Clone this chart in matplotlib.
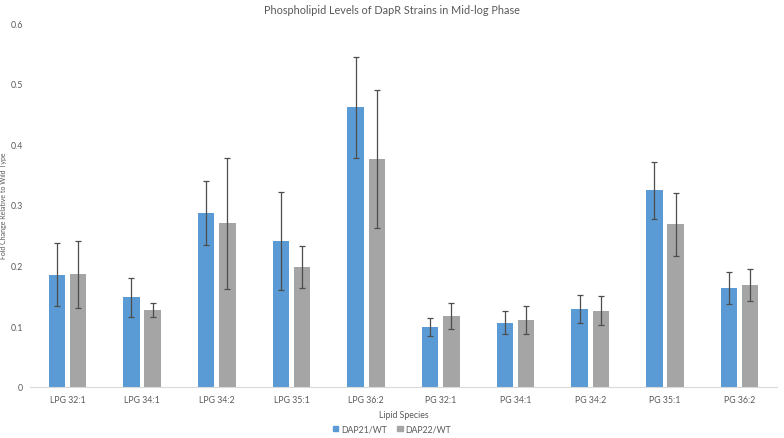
import matplotlib
matplotlib.use("Agg")
import matplotlib.pyplot as plt
import numpy as np
from matplotlib.patches import Patch

categories = ["LPG 32:1", "LPG 34:1", "LPG 34:2", "LPG 35:1", "LPG 36:2",
              "PG 32:1", "PG 34:1", "PG 34:2", "PG 35:1", "PG 36:2"]
dap21 = [0.185, 0.148, 0.287, 0.241, 0.461, 0.099, 0.106, 0.128, 0.324, 0.163]
dap21_err = [0.052, 0.032, 0.053, 0.081, 0.083, 0.015, 0.019, 0.023, 0.047, 0.026]
dap22 = [0.186, 0.127, 0.270, 0.198, 0.376, 0.117, 0.110, 0.126, 0.268, 0.168]
dap22_err = [0.055, 0.012, 0.108, 0.035, 0.114, 0.022, 0.023, 0.024, 0.052, 0.026]
yticks = [0, 0.1, 0.2, 0.3, 0.4, 0.5, 0.6]

plt.rcParams['font.family'] = ['Lato', 'DejaVu Sans']
txt = '#595959'

fig = plt.figure(figsize=(7.84, 4.39), dpi=100)
ax = fig.add_axes([30/784, 1 - 388/439, 747/784, (388 - 24)/439])

x = np.arange(len(categories))
w = 0.22
off = 0.142
ekw = dict(ecolor='#4d4d4d', elinewidth=0.9, capsize=2.2, capthick=0.9)
ax.bar(x - off, dap21, w, color='#5B9BD5', yerr=dap21_err, error_kw=ekw, label='DAP21/WT')
ax.bar(x + off, dap22, w, color='#A5A5A5', yerr=dap22_err, error_kw=ekw, label='DAP22/WT')

ax.set_xlim(-0.5, len(categories) - 0.5)
ax.set_ylim(0, 0.6)
ax.set_yticks(yticks)
ax.set_yticklabels([f"{t:g}" for t in yticks])
ax.set_xticks(x)
ax.set_xticklabels(categories)
ax.tick_params(axis='both', length=0, labelsize=6.3, colors=txt)
ax.tick_params(axis='x', pad=6)
ax.tick_params(axis='y', pad=5)
for s in ['top', 'right', 'left']:
    ax.spines[s].set_visible(False)
ax.spines['bottom'].set_color('#D9D9D9')
ax.spines['bottom'].set_linewidth(0.8)

ax.set_ylabel('Fold Change Relative to Wild Type', fontsize=5, color=txt)
ax.yaxis.set_label_coords(-0.0305, 0.5)
ax.set_xlabel('Lipid Species', fontsize=6.3, color=txt)
ax.xaxis.set_label_coords(0.5, -0.063)

fig.text(0.5, 1 - 10/439, 'Phospholipid Levels of DapR Strains in Mid-log Phase',
         ha='center', va='center', fontsize=7.8, color=txt)

handles = [Patch(color='#5B9BD5', label='DAP21/WT'), Patch(color='#A5A5A5', label='DAP22/WT')]
fig.legend(handles=handles, loc='center', bbox_to_anchor=(0.5, 1 - 430/439), ncol=2,
           frameon=False, fontsize=6.3, labelcolor=txt, handlelength=0.6, handleheight=0.6,
           handletextpad=0.3, columnspacing=1.2)

fig.savefig('out.png', dpi=100)
